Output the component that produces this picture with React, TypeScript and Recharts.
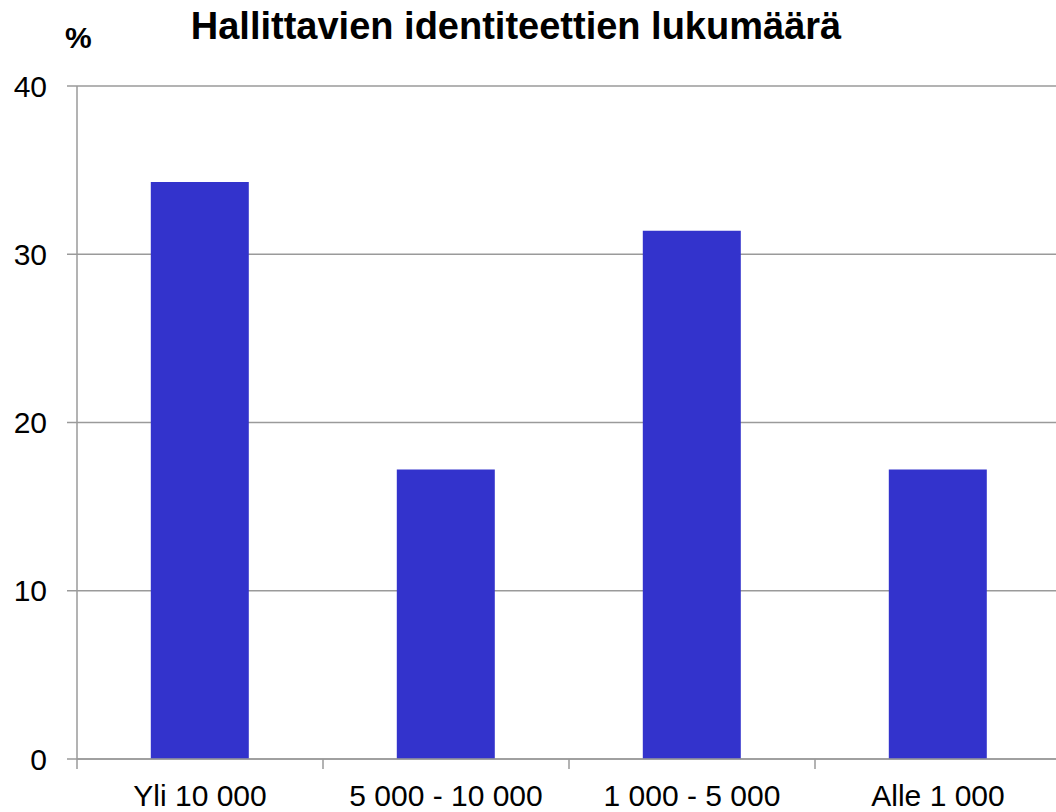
import { BarChart, Bar, XAxis, YAxis, CartesianGrid } from 'recharts'

const categories = ['Yli 10 000', '5 000 - 10 000', '1 000 - 5 000', 'Alle 1 000']
const shares = [34.3, 17.2, 31.4, 17.2]
const yTicks = [0, 10, 20, 30, 40]
// category edges (tick marks) and centres (labels) on a 0..4 scale
const xTicks = [0, 0.5, 1, 1.5, 2, 2.5, 3, 3.5, 4]

const data = categories.map((name, i) => ({ name, value: shares[i], pos: i + 0.5 }))

const FONT = 'Liberation Sans, Arial, sans-serif'
const GRID = '#9a9a9a'
const BAR = '#3333CC'

const EdgeTick = ({ x, y, payload }: { x?: number; y?: number; payload?: { value: number } }) => {
  const v = payload?.value ?? 0
  if (Number.isInteger(v)) {
    return <line x1={x} x2={x} y1={y} y2={(y ?? 0) + 10} stroke={GRID} strokeWidth={1.5} />
  }
  return (
    <text x={x} y={(y ?? 0) + 26} dy="0.71em" textAnchor="middle" fill="#000" fontSize={30} fontFamily={FONT}>
      {categories[Math.floor(v)]}
    </text>
  )
}

export default function App() {
  return (
    <div style={{ position: 'absolute', left: 0, top: 0, width: 1056, height: 812, overflow: 'hidden', background: '#fff', fontFamily: FONT }}>
      <div style={{ position: 'absolute', left: 0, top: 5, width: 1032, textAlign: 'center', fontSize: 38, fontWeight: 'bold', color: '#000' }}>
        Hallittavien identiteettien lukumäärä
      </div>
      <div style={{ position: 'absolute', left: 65, top: 21, fontSize: 30, fontWeight: 'bold', color: '#000' }}>%</div>
      <BarChart width={1070} height={812} data={data} margin={{ top: 86, right: 9, bottom: 0, left: 0 }} barCategoryGap="30%">
        <CartesianGrid vertical={false} stroke={GRID} strokeWidth={1.5} />
        <XAxis dataKey="name" hide height={0} />
        <XAxis xAxisId="edges" dataKey="pos" type="number" domain={[0, 4]} ticks={xTicks} interval={0} height={53}
          allowDataOverflow axisLine={{ stroke: GRID, strokeWidth: 1.5 }} tickLine={false} tickSize={0} tickMargin={0}
          tick={<EdgeTick />} />
        <YAxis width={77} domain={[0, 40]} ticks={yTicks} axisLine={{ stroke: GRID, strokeWidth: 1.5 }}
          tickLine={{ stroke: GRID, strokeWidth: 1.5 }} tickSize={10} tickMargin={20}
          tick={{ fill: '#000', fontSize: 30, fontFamily: FONT }} />
        <Bar dataKey="value" fill={BAR} isAnimationActive={false} />
      </BarChart>
    </div>
  )
}
